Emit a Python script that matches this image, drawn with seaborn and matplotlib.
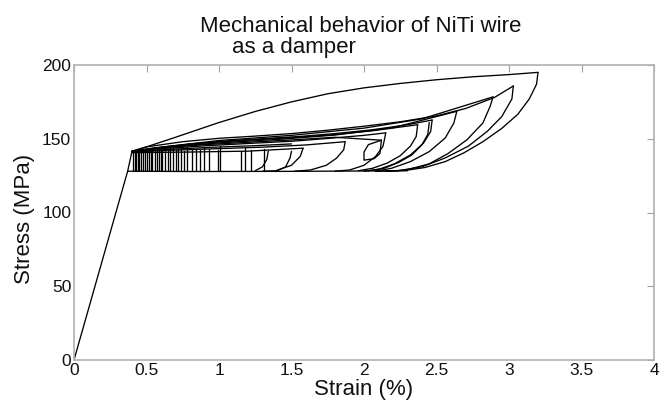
import numpy as np
import pandas as pd
import matplotlib
matplotlib.use("Agg")
import matplotlib.pyplot as plt
import seaborn as sns

sns.set_style("white")
plt.rcParams['font.family'] = ['Liberation Sans', 'DejaVu Sans']

# ---------------- data (strain %, stress MPa) ----------------
# elastic loading branch
load_strain = [0.0, 0.37, 0.40]
load_stress = [0.0, 128.0, 141.5]

# lower (reverse transformation) plateau
lower_strain = [2.30, 1.50, 0.80, 0.37]
lower_stress = [128.3, 127.9, 127.8, 128.0]

# first (largest) cycle
outer_up_strain = [0.40, 0.50, 0.70, 1.00, 1.25, 1.50, 1.75, 2.00, 2.25, 2.50, 2.75, 3.00, 3.20]
outer_up_stress = [141.5, 144.5, 151.0, 161.0, 168.5, 175.0, 180.5, 184.5, 187.5, 190.0, 192.0, 193.5, 195.0]
outer_dn_strain = [3.20, 3.19, 3.14, 3.06, 2.95, 2.82, 2.69, 2.56, 2.42, 2.29, 2.16]
outer_dn_stress = [195.0, 187.0, 177.0, 166.5, 157.0, 148.0, 140.5, 134.5, 130.5, 128.6, 127.9]

# second cycle
c2_up_strain = [0.40, 0.50, 0.75, 1.00, 1.25, 1.50, 1.75, 2.00, 2.25, 2.50, 2.70, 2.90, 3.03]
c2_up_stress = [141.5, 144.5, 148.0, 150.3, 151.8, 153.5, 155.8, 158.5, 161.5, 165.5, 170.5, 178.0, 185.8]
c2_dn_strain = [3.03, 3.02, 2.95, 2.85, 2.72, 2.56, 2.40, 2.24, 2.08]
c2_dn_stress = [185.8, 177.0, 165.0, 155.0, 145.0, 137.0, 131.0, 128.4, 127.9]

# further upper-plateau branches (forming the dense band)
b1_strain = [0.40, 0.55, 0.80, 1.05, 1.30, 1.55, 1.80, 2.05, 2.30, 2.47]
b1_stress = [141.5, 143.8, 146.5, 148.5, 150.0, 151.5, 153.5, 156.0, 159.5, 162.7]
b2_strain = [0.40, 0.60, 0.90, 1.20, 1.50, 1.75, 2.00, 2.15]
b2_stress = [141.5, 143.2, 145.2, 146.8, 148.3, 150.2, 152.3, 154.0]
b3_strain = [0.40, 0.70, 1.00, 1.30, 1.60, 1.87]
b3_stress = [141.2, 142.3, 143.3, 144.3, 145.8, 148.0]
b4_strain = [0.40, 0.80, 1.20, 1.58]
b4_stress = [140.6, 141.0, 141.6, 143.6]
b5_strain = [0.40, 0.65, 1.00, 1.40, 1.80, 2.20, 2.64]
b5_stress = [141.5, 144.5, 147.2, 149.5, 152.5, 157.5, 168.6]
b6_strain = [0.40, 0.60, 1.00, 1.50, 2.00, 2.40, 2.89]
b6_stress = [141.5, 144.2, 148.8, 152.3, 157.2, 163.5, 178.4]
b7_strain = [0.40, 0.60, 0.90, 1.20, 1.50, 1.80, 2.12]
b7_stress = [141.3, 143.8, 146.0, 147.6, 149.2, 151.0, 149.0]
b8_strain = [0.40, 0.55, 0.85, 1.15, 1.45, 1.75, 2.05, 2.37]
b8_stress = [141.4, 143.5, 146.8, 148.8, 150.5, 152.4, 155.3, 159.5]
b9_strain = [0.40, 0.65, 0.95, 1.25, 1.50]
b9_stress = [141.0, 142.8, 144.2, 145.3, 146.5]

# unloading branches of the partial cycles
u3_strain = [2.89, 2.87, 2.82, 2.71, 2.58, 2.45, 2.29, 2.15]
u3_stress = [178.4, 172.0, 160.7, 149.3, 140.0, 133.0, 128.8, 128.0]
u4_strain = [2.64, 2.62, 2.56, 2.45, 2.32, 2.19, 2.08]
u4_stress = [168.6, 160.7, 150.5, 141.3, 134.5, 130.0, 127.9]
u5_strain = [2.47, 2.46, 2.41, 2.32, 2.21, 2.10, 2.00]
u5_stress = [162.7, 155.0, 147.0, 139.0, 133.0, 129.2, 128.0]
u6_strain = [2.45, 2.44, 2.40, 2.33, 2.24, 2.14, 2.03]
u6_stress = [161.0, 153.0, 146.0, 139.0, 134.0, 130.0, 128.3]
u7_strain = [2.37, 2.36, 2.32, 2.25, 2.16, 2.06, 1.96]
u7_stress = [159.5, 151.5, 145.0, 138.5, 133.5, 130.0, 128.3]
u8_strain = [2.15, 2.14, 2.13, 2.08, 2.00, 1.90, 1.80]
u8_stress = [154.0, 149.0, 144.7, 138.0, 132.0, 128.8, 128.0]
box_strain = [2.12, 2.11, 2.07, 2.00, 2.00, 2.03, 2.12]
box_stress = [149.0, 140.0, 136.5, 135.5, 141.0, 146.0, 149.0]
u9_strain = [1.87, 1.86, 1.81, 1.74, 1.63, 1.52]
u9_stress = [148.0, 142.5, 136.8, 132.0, 128.8, 128.0]
u10_strain = [1.58, 1.56, 1.50, 1.39, 1.30]
u10_stress = [143.6, 138.0, 132.0, 128.3, 128.0]
u11_strain = [1.50, 1.49, 1.46, 1.40]
u11_stress = [141.5, 137.0, 131.0, 128.3]
u12_strain = [1.34, 1.33, 1.30, 1.25]
u12_stress = [141.8, 136.0, 131.0, 128.3]

# near-vertical unloading drops of the small cycles
drop_strain = [0.41, 0.42, 0.43, 0.44, 0.45, 0.46, 0.475, 0.49, 0.50, 0.52, 0.53, 0.54, 0.56,
               0.575, 0.585, 0.60, 0.61, 0.63, 0.65, 0.66, 0.68, 0.70, 0.72, 0.74, 0.76,
               0.78, 0.815, 0.84, 0.87, 0.895, 0.93, 0.99, 1.01, 1.15, 1.18, 1.22, 1.31]
drop_top = [141.0, 141.5, 141.8, 142.0, 142.3, 142.5, 143.0, 143.0, 142.8, 142.0, 143.2, 143.5, 142.0,
            143.5, 144.0, 142.8, 142.5, 143.0, 142.0, 143.5, 144.0, 142.5, 143.0, 143.5, 142.0,
            144.5, 142.5, 143.0, 142.5, 144.0, 143.0, 142.5, 145.0, 142.0, 143.5, 142.5, 143.0]
drop_bottom = 128.0

curves = {
    "load": (load_strain, load_stress),
    "lower": (lower_strain, lower_stress),
    "outer_up": (outer_up_strain, outer_up_stress),
    "outer_dn": (outer_dn_strain, outer_dn_stress),
    "c2_up": (c2_up_strain, c2_up_stress),
    "c2_dn": (c2_dn_strain, c2_dn_stress),
    "b1": (b1_strain, b1_stress), "b2": (b2_strain, b2_stress),
    "b3": (b3_strain, b3_stress), "b4": (b4_strain, b4_stress),
    "b5": (b5_strain, b5_stress), "b6": (b6_strain, b6_stress),
    "b7": (b7_strain, b7_stress), "b8": (b8_strain, b8_stress),
    "b9": (b9_strain, b9_stress),
    "u3": (u3_strain, u3_stress), "u4": (u4_strain, u4_stress),
    "u5": (u5_strain, u5_stress), "u6": (u6_strain, u6_stress),
    "u7": (u7_strain, u7_stress), "u8": (u8_strain, u8_stress),
    "box": (box_strain, box_stress), "u9": (u9_strain, u9_stress),
    "u10": (u10_strain, u10_stress), "u11": (u11_strain, u11_stress),
    "u12": (u12_strain, u12_stress),
}

rows = []
order = 0
for name, (xs, ys) in curves.items():
    for x, y in zip(xs, ys):
        rows.append((name, order, x, y))
        order += 1
for i, (x, top) in enumerate(zip(drop_strain, drop_top)):
    rows.append((f"drop{i}", order, x, top)); order += 1
    rows.append((f"drop{i}", order, x, drop_bottom)); order += 1
df = pd.DataFrame(rows, columns=["curve", "order", "strain", "stress"])

# ---------------- figure ----------------
fig = plt.figure(figsize=(6.65, 4.08), dpi=100)
ax = fig.add_axes([74 / 665, 1 - 360 / 408, 580 / 665, 295 / 408])

sns.lineplot(data=df, x="strain", y="stress", units="curve", estimator=None,
             sort=False, color="black", linewidth=0.95, ax=ax, legend=False)

ax.set_xlim(0, 4)
ax.set_ylim(0, 200)
xt = [0, 0.5, 1, 1.5, 2, 2.5, 3, 3.5, 4]
xl = ["0", "0.5", "1", "1.5", "2", "2.5", "3", "3.5", "4"]
ax.set_xticks(xt)
ax.set_xticklabels(xl)
ax.set_yticks([0, 50, 100, 150, 200])
ax.set_yticklabels(["0", "50", "100", "150", "200"])
ax.tick_params(direction="in", top=True, right=True, length=5, width=0.8,
               color="#a0a0a0", labelsize=12.5, pad=2, labelcolor="#111111")
for s in ax.spines.values():
    s.set_color("#b0b0b0")
    s.set_linewidth(1.2)

ax.set_xlabel("Strain (%)", fontsize=16, color="#111111")
ax.xaxis.set_label_coords(0.5, -0.065)
ax.set_ylabel("Stress (MPa)", fontsize=16, color="#111111")
ax.yaxis.set_label_coords(-0.067, 0.478)

fig.text(361 / 665, 1 - 31.7 / 408, "Mechanical behavior of NiTi wire",
         ha="center", va="baseline", fontsize=16, color="#111111")
fig.text(232 / 665, 1 - 53.3 / 408, "as a damper",
         ha="left", va="baseline", fontsize=16, color="#111111")

fig.savefig("out.png", dpi=100)
